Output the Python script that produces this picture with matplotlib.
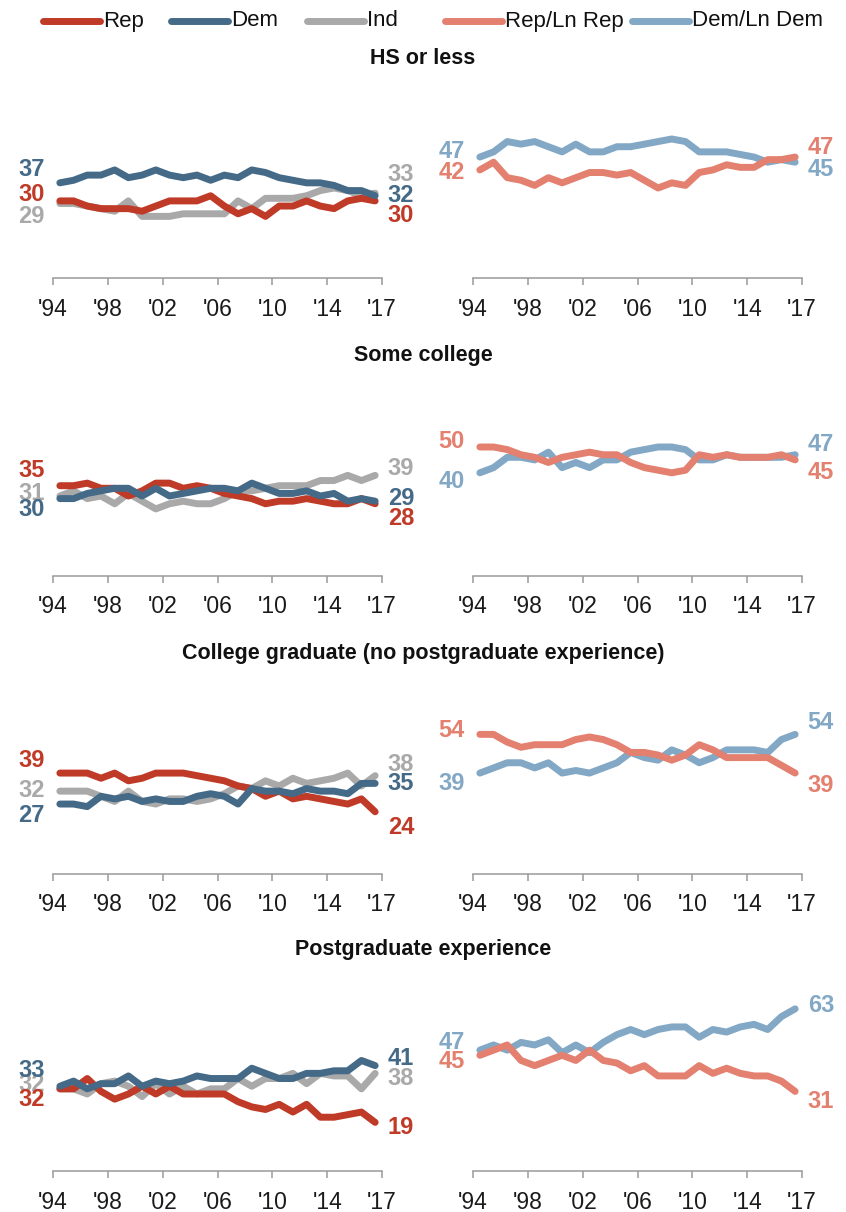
import matplotlib
matplotlib.use("Agg")
import matplotlib.pyplot as plt
from matplotlib.lines import Line2D

plt.rcParams['font.family'] = ['Liberation Sans', 'DejaVu Sans']

years = list(range(1994, 2018))
x_pos = [y + 0.5 for y in years]
tick_pos = [1994, 1998, 2002, 2006, 2010, 2014, 2018]
tick_labels = ["'94", "'98", "'02", "'06", "'10", "'14", "'17"]

titles = ["HS or less", "Some college",
          "College graduate (no postgraduate experience)", "Postgraduate experience"]

# HS or less
rep_hs = [30, 30, 28, 27, 27, 27, 26, 28, 30, 30, 30, 32, 28, 25, 27, 24, 28, 28, 30, 28, 27, 30, 31, 30]
dem_hs = [37, 38, 40, 40, 42, 39, 40, 42, 40, 39, 40, 38, 40, 39, 42, 41, 39, 38, 37, 37, 36, 34, 34, 32]
ind_hs = [29, 29, 28, 27, 26, 30, 24, 24, 24, 25, 25, 25, 25, 30, 27, 31, 31, 31, 32, 34, 35, 34, 32, 33]
repln_hs = [42, 45, 39, 38, 36, 39, 37, 39, 41, 41, 40, 41, 38, 35, 37, 36, 41, 42, 44, 43, 43, 46, 46, 47]
demln_hs = [47, 49, 53, 52, 53, 51, 49, 52, 49, 49, 51, 51, 52, 53, 54, 53, 49, 49, 49, 48, 47, 45, 46, 45]

# Some college
rep_sc = [35, 35, 36, 34, 34, 31, 33, 36, 36, 34, 35, 34, 32, 31, 30, 28, 29, 29, 30, 29, 28, 28, 30, 28]
dem_sc = [30, 30, 32, 33, 34, 34, 31, 34, 31, 32, 33, 34, 34, 33, 36, 34, 32, 32, 33, 31, 32, 29, 30, 29]
ind_sc = [31, 33, 30, 31, 28, 32, 29, 26, 28, 29, 28, 28, 30, 33, 33, 34, 35, 35, 35, 37, 37, 39, 37, 39]
repln_sc = [50, 50, 49, 47, 46, 44, 46, 47, 48, 47, 47, 44, 42, 41, 40, 41, 47, 46, 47, 46, 46, 46, 47, 45]
demln_sc = [40, 42, 46, 46, 45, 48, 42, 44, 42, 45, 45, 48, 49, 50, 50, 49, 45, 45, 47, 46, 46, 46, 46, 47]

# College graduate
rep_cg = [39, 39, 39, 37, 39, 36, 37, 39, 39, 39, 38, 37, 36, 34, 33, 30, 32, 29, 30, 29, 28, 27, 29, 24]
dem_cg = [27, 27, 26, 30, 29, 30, 28, 29, 28, 28, 30, 31, 30, 27, 33, 32, 32, 31, 33, 32, 32, 31, 35, 35]
ind_cg = [32, 32, 32, 30, 28, 32, 28, 27, 29, 29, 28, 29, 31, 34, 33, 36, 34, 37, 35, 36, 37, 39, 34, 38]
repln_cg = [54, 54, 51, 49, 50, 50, 50, 52, 53, 52, 50, 47, 47, 46, 44, 46, 50, 48, 45, 45, 45, 45, 42, 39]
demln_cg = [39, 41, 43, 43, 41, 43, 39, 40, 39, 41, 43, 47, 45, 44, 48, 46, 43, 45, 48, 48, 48, 47, 52, 54]

# Postgraduate
rep_pg = [32, 32, 36, 31, 28, 30, 33, 30, 33, 30, 30, 30, 30, 27, 25, 24, 26, 23, 26, 21, 21, 22, 23, 19]
dem_pg = [33, 35, 32, 34, 34, 37, 33, 35, 34, 35, 37, 36, 36, 36, 40, 38, 36, 36, 38, 38, 39, 39, 43, 41]
ind_pg = [32, 32, 30, 34, 35, 33, 29, 34, 30, 33, 30, 32, 32, 36, 33, 36, 36, 38, 34, 38, 37, 37, 32, 38]
repln_pg = [45, 47, 49, 43, 41, 43, 45, 43, 47, 43, 42, 39, 41, 37, 37, 37, 41, 38, 40, 38, 37, 37, 35, 31]
demln_pg = [47, 49, 47, 50, 49, 51, 46, 49, 46, 50, 53, 55, 53, 55, 56, 56, 52, 55, 54, 56, 57, 55, 60, 63]

names = ["Rep", "Dem", "Ind", "Rep/Ln Rep", "Dem/Ln Dem"]
colors = {"Rep": "#bf3a27", "Dem": "#446a87", "Ind": "#a9a9a9",
          "Rep/Ln Rep": "#e3806f", "Dem/Ln Dem": "#82a8c5"}

left_rows = [
    {"Ind": ind_hs, "Rep": rep_hs, "Dem": dem_hs},
    {"Ind": ind_sc, "Rep": rep_sc, "Dem": dem_sc},
    {"Ind": ind_cg, "Rep": rep_cg, "Dem": dem_cg},
    {"Ind": ind_pg, "Rep": rep_pg, "Dem": dem_pg},
]
right_rows = [
    {"Dem/Ln Dem": demln_hs, "Rep/Ln Rep": repln_hs},
    {"Dem/Ln Dem": demln_sc, "Rep/Ln Rep": repln_sc},
    {"Dem/Ln Dem": demln_cg, "Rep/Ln Rep": repln_cg},
    {"Dem/Ln Dem": demln_pg, "Rep/Ln Rep": repln_pg},
]
# label nudges in pixels (start, end), positive = down
left_nudge = [
    {"Dem": (-13, 0), "Rep": (-6, 15), "Ind": (13, -19)},
    {"Rep": (-15, 15), "Ind": (-3, -7), "Dem": (11, -3)},
    {"Rep": (-13, 16), "Ind": (-1, -11), "Dem": (11, 0)},
    {"Dem": (-16, -7), "Ind": (-4, 5), "Rep": (11, 5)},
]
right_nudge = [
    {"Dem/Ln Dem": (-6, 7), "Rep/Ln Rep": (3, -10)},
    {"Rep/Ln Rep": (-6, 13), "Dem/Ln Dem": (9, -10)},
    {"Rep/Ln Rep": (-4, 12), "Dem/Ln Dem": (10, -12)},
    {"Dem/Ln Dem": (-8, -3), "Rep/Ln Rep": (6, 10)},
]

W, H = 846, 1212
PX_PER_PT = 2.58
YTOP = 70
baselines = [278.3, 576.0, 873.7, 1171.4]
title_y = [58, 356, 653, 950]

fig = plt.figure(figsize=(W / 100, H / 100), dpi=100)


def make_axes(x0, x1, base):
    h = YTOP * PX_PER_PT
    ax = fig.add_axes([x0 / W, 1 - base / H, (x1 - x0) / W, h / H])
    ax.set_xlim(1994, 2018)
    ax.set_ylim(0, YTOP)
    for s in ["top", "left", "right"]:
        ax.spines[s].set_visible(False)
    ax.spines["bottom"].set_color("#9a9a9a")
    ax.spines["bottom"].set_linewidth(1.1)
    ax.set_yticks([])
    ax.set_xticks(tick_pos)
    ax.set_xticklabels(tick_labels)
    ax.tick_params(axis="x", direction="out", length=5, width=1.1, color="#9a9a9a",
                   labelsize=16.5, labelcolor="#1a1a1a", pad=9)
    ax.patch.set_alpha(0)
    return ax


def draw(ax, series, nudges):
    for name, vals in series.items():
        c = colors[name]
        z = 1 if name == "Ind" else 2
        ax.plot(x_pos, vals, color=c, lw=5.0, solid_capstyle="round",
                solid_joinstyle="round", zorder=z)
        d0, d1 = nudges[name]
        ax.annotate(str(vals[0]), xy=(x_pos[0], vals[0]), xytext=(-11, -d0 * 0.72),
                    textcoords="offset points", ha="right", va="center", zorder=z,
                    color=c, fontsize=17, fontweight="bold", annotation_clip=False)
        ax.annotate(str(vals[-1]), xy=(x_pos[-1], vals[-1]), xytext=(9, -d1 * 0.72),
                    textcoords="offset points", ha="left", va="center", zorder=z,
                    color=c, fontsize=17, fontweight="bold", annotation_clip=False)


for r in range(4):
    axl = make_axes(53, 382, baselines[r])
    draw(axl, left_rows[r], left_nudge[r])
    axr = make_axes(473, 802, baselines[r])
    draw(axr, right_rows[r], right_nudge[r])
    fig.text(423 / W, 1 - title_y[r] / H, titles[r], ha="center", va="center",
             fontsize=15.5, fontweight="bold", color="#111111")

# legend across the top
leg_x = [43, 171, 307, 445, 632]
for name, lx in zip(names, leg_x):
    fig.add_artist(Line2D([lx / W, (lx + 57) / W], [1 - 21 / H, 1 - 21 / H],
                          color=colors[name], lw=5.0, solid_capstyle="round"))
    fig.text((lx + 60) / W, 1 - 21 / H, name, ha="left", va="center",
             fontsize=16, color="#111111")

fig.savefig("out.png", dpi=100)
